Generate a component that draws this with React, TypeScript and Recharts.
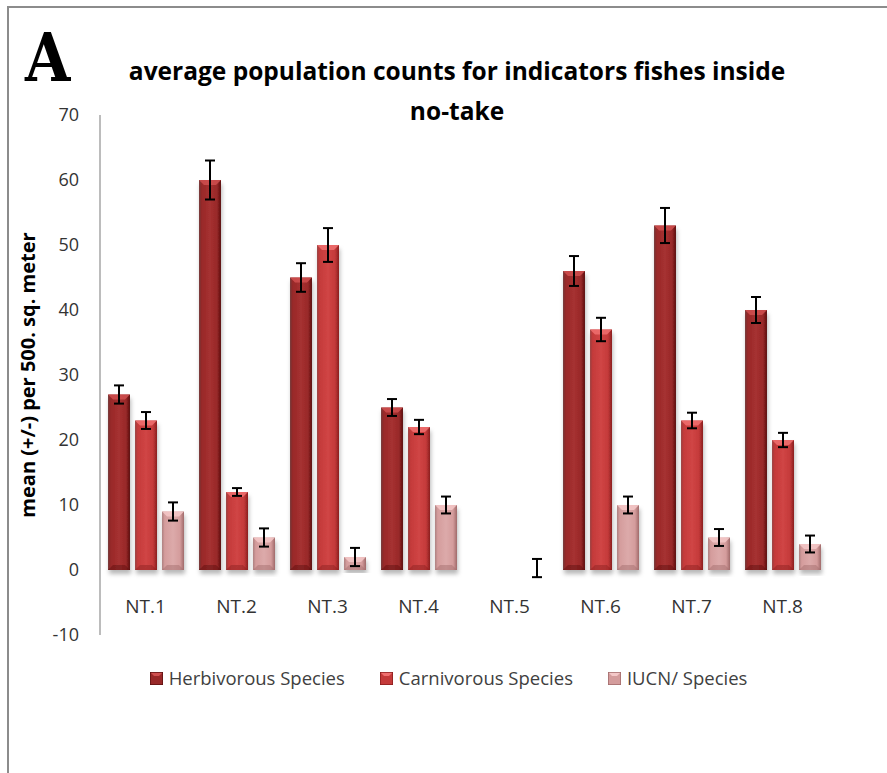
import { BarChart, Bar, XAxis, YAxis, ErrorBar } from "recharts"

// values (panel A)
const sites = ["NT.1", "NT.2", "NT.3", "NT.4", "NT.5", "NT.6", "NT.7", "NT.8"]
const herbivorous = [27, 60, 45, 25, 0, 46, 53, 40]
const herbivorousErr = [1.4, 3, 2.2, 1.3, null, 2.3, 2.7, 2]
const carnivorous = [23, 12, 50, 22, 0, 37, 23, 20]
const carnivorousErr = [1.3, 0.6, 2.6, 1.1, null, 1.8, 1.2, 1.1]
const iucn = [9, 5, 2, 10, 0, 10, 5, 4]
const iucnErr: (number | number[])[] = [1.4, 1.4, 1.4, 1.3, [1.1, 1.7], 1.3, 1.3, 1.3]
const seriesNames = ["Herbivorous Species", "Carnivorous Species", "IUCN/ Species"]
const yTicks = [-10, 0, 10, 20, 30, 40, 50, 60, 70]

const titleLines = ["average population counts for indicators fishes inside", "no-take"]
const yLabel = "mean (+/-) per 500. sq. meter"

const data = sites.map((site, i) => ({
  site,
  herb: herbivorous[i],
  herbErr: herbivorousErr[i],
  carn: carnivorous[i],
  carnErr: carnivorousErr[i],
  iucn: iucn[i],
  iucnErr: iucnErr[i],
}))

const series = [
  { key: "herb", name: seriesNames[0], grad: "grad-herb", dark: "#5c1010", mid: "#982828", light: "#a63131", cap: "#d05050" },
  { key: "carn", name: seriesNames[1], grad: "grad-carn", dark: "#8a1e1e", mid: "#c43a3a", light: "#d04545", cap: "#f07070" },
  { key: "iucn", name: seriesNames[2], grad: "grad-iucn", dark: "#a06a6a", mid: "#d49c9c", light: "#dcaaaa", cap: "#f4c8c8" },
]

const font = "'Open Sans', 'Noto Sans', sans-serif"

function CylBar(props: any) {
  const { x, y, width, height, fill, cap, dark } = props
  if (!height || height <= 0.5) return null
  const b = Math.min(5, height / 2)
  return (
    <g filter="url(#bar-shadow)">
      <rect x={x} y={y} width={width} height={height} fill={fill} />
      <polygon points={`${x},${y} ${x + width},${y} ${x + width - b},${y + b} ${x + b},${y + b}`} fill={cap} opacity={0.85} />
      <polygon
        points={`${x},${y + height} ${x + width},${y + height} ${x + width - b},${y + height - b} ${x + b},${y + height - b}`}
        fill={dark}
        opacity={0.45}
      />
    </g>
  )
}

function SiteTick({ x, y, payload }: any) {
  return (
    <text x={x} y={y} dy={-22} textAnchor="middle" fontFamily={font} fontSize={19} fill="#333">
      {payload.value}
    </text>
  )
}

function LegendIcon({ s }: { s: (typeof series)[number] }) {
  return (
    <svg width={13} height={13} style={{ marginRight: 6 }}>
      <rect x={0} y={0} width={13} height={13} fill={s.mid} />
      <polygon points="0,0 13,0 9,4 4,4" fill={s.cap} />
      <rect x={0} y={0} width={13} height={13} fill="none" stroke={s.dark} strokeWidth={1.5} />
    </svg>
  )
}

export default function App() {
  return (
    <div style={{ position: "absolute", left: 0, top: 0, width: 887, height: 773, background: "#fff" }}>
      <BarChart
        width={887}
        height={773}
        data={data}
        margin={{ top: 115, right: 59, bottom: 108, left: 40 }}
        barSize={22}
        barGap={5}
      >
        <defs>
          {series.map((s) => (
            <linearGradient key={s.grad} id={s.grad} x1="0" y1="0" x2="1" y2="0">
              <stop offset="0%" stopColor={s.dark} stopOpacity={0.8} />
              <stop offset="12%" stopColor={s.mid} />
              <stop offset="50%" stopColor={s.light} />
              <stop offset="82%" stopColor={s.mid} />
              <stop offset="100%" stopColor={s.dark} />
            </linearGradient>
          ))}
          <filter id="bar-shadow" x="-30%" y="-10%" width="160%" height="130%">
            <feDropShadow dx={1} dy={4} stdDeviation={2} floodColor="#000" floodOpacity={0.28} />
          </filter>
        </defs>
        <XAxis
          dataKey="site"
          axisLine={false}
          tickLine={false}
          tickSize={0}
          tickMargin={0}
          height={30}
          interval={0}
          tick={<SiteTick />}
        />
        <YAxis
          domain={[-10, 70]}
          ticks={yTicks}
          interval={0}
          allowDataOverflow
          width={60}
          axisLine={{ stroke: "#a6a6a6", strokeWidth: 1.5 }}
          tickLine={false}
          tickSize={0}
          tickMargin={21}
          tick={{ fontSize: 18, fill: "#333", fontFamily: font }}
        />
        {series.map((s) => (
          <Bar
            key={s.key}
            dataKey={s.key}
            name={s.name}
            fill={`url(#${s.grad})`}
            isAnimationActive={false}
            shape={(p: any) => <CylBar {...p} cap={s.cap} dark={s.dark} />}
          >
            <ErrorBar dataKey={`${s.key}Err`} width={5} stroke="#000" strokeWidth={2} />
          </Bar>
        ))}
      </BarChart>

      <svg width={887} height={773} style={{ position: "absolute", left: 0, top: 0, pointerEvents: "none" }}>
        <polyline points="8,773 8,7 887,7" fill="none" stroke="#8c8c8c" strokeWidth={2} />
        <text
          transform="translate(25,81) scale(0.86,1)"
          fontFamily="'DejaVu Serif', serif"
          fontWeight="bold"
          fontSize={68}
          fill="#000"
        >
          A
        </text>
        {titleLines.map((line, i) => (
          <text
            key={i}
            x={457}
            y={80 + i * 40}
            textAnchor="middle"
            fontFamily={font}
            fontWeight="bold"
            fontSize={24.5}
            fill="#000"
          >
            {line}
          </text>
        ))}
        <text
          transform="translate(27,375) rotate(-90)"
          textAnchor="middle"
          dominantBaseline="central"
          fontFamily={font}
          fontWeight="bold"
          fontSize={20}
          fill="#000"
        >
          {yLabel}
        </text>
      </svg>

      <div
        style={{
          position: "absolute",
          left: 10,
          top: 666,
          width: 877,
          display: "flex",
          justifyContent: "center",
          alignItems: "center",
          gap: 35,
          fontFamily: font,
          fontSize: 18.5,
          lineHeight: "24px",
          color: "#404040",
        }}
      >
        {series.map((s) => (
          <div key={s.key} style={{ display: "flex", alignItems: "center" }}>
            <LegendIcon s={s} />
            <span>{s.name}</span>
          </div>
        ))}
      </div>
    </div>
  )
}
